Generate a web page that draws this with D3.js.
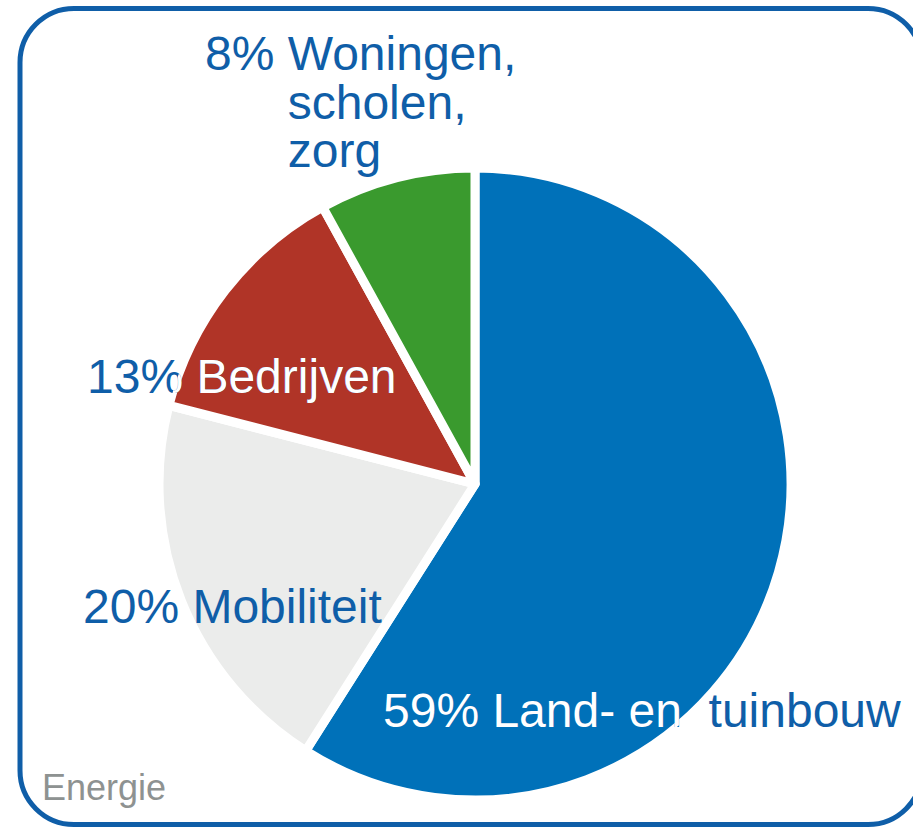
<!DOCTYPE html>
<html>
<head>
<meta charset="utf-8">
<script src="https://cdn.jsdelivr.net/npm/d3@7"></script>
<style>
  body { margin: 0; background: #fff; }
  svg { display: block; }
  text { font-family: "Liberation Sans", Arial, sans-serif; white-space: pre; }
</style>
</head>
<body>
<svg id="chart" width="913" height="828"></svg>
<script>
// data
const categories = ["Land- en  tuinbouw", "Mobiliteit", "Bedrijven", "Woningen,|scholen,|zorg"];
const values = [59, 20, 13, 8];
const colors = ["#0071b9", "#ebeceb", "#b03427", "#3a9a2e"];
const darkSlice = [true, false, true, false];
const title = "Energie";

const width = 913, height = 828;
const cx = 475, cy = 484, radius = 316;
const textBlue = "#0f5ea8";

// label anchor (left x, first baseline y) per slice
const labelPos = [[383, 727], [83, 623], [87, 393], [205, 70]];

const svg = d3.select("#chart");

// frame
svg.append("rect")
  .attr("x", 20).attr("y", 8.5)
  .attr("width", 902).attr("height", 816)
  .attr("rx", 54).attr("ry", 54)
  .attr("fill", "none")
  .attr("stroke", "#0f5ea8")
  .attr("stroke-width", 5);

const pie = d3.pie().sort(null).value(d => d);
const arcs = pie(values);
const arc = d3.arc().innerRadius(0).outerRadius(radius);

const g = svg.append("g").attr("transform", `translate(${cx},${cy})`);

g.selectAll("path")
  .data(arcs)
  .join("path")
  .attr("d", arc)
  .attr("fill", (d, i) => colors[i])
  .attr("stroke", "#fff")
  .attr("stroke-width", 9)
  .attr("stroke-linejoin", "round");

// clip for white text parts over the dark slices
const clip = svg.append("defs").append("clipPath").attr("id", "darkClip");
clip.selectAll("path")
  .data(arcs.filter((d, i) => darkSlice[i]))
  .join("path")
  .attr("transform", `translate(${cx},${cy})`)
  .attr("d", arc);

function drawLabel(parent, i, fill) {
  const pct = values[i] + "% ";
  const lines = categories[i].split("|");
  const t = parent.append("text")
    .attr("x", labelPos[i][0])
    .attr("y", labelPos[i][1])
    .attr("font-size", 48)
    .attr("fill", fill);
  t.append("tspan").text(pct + lines[0]);
  if (lines.length > 1) {
    // indent continuation lines to align with first word
    const probe = svg.append("text").attr("font-size", 48).text(pct);
    const w = probe.node().getComputedTextLength();
    probe.remove();
    lines.slice(1).forEach((ln, k) => {
      t.append("tspan")
        .attr("x", labelPos[i][0] + w)
        .attr("y", labelPos[i][1] + 48.5 * (k + 1))
        .text(ln);
    });
  }
}

const base = svg.append("g");
const over = svg.append("g").attr("clip-path", "url(#darkClip)");
values.forEach((v, i) => {
  drawLabel(base, i, textBlue);
  drawLabel(over, i, "#fff");
});

svg.append("text")
  .attr("x", 42).attr("y", 800)
  .attr("font-size", 36)
  .attr("fill", "#8e9291")
  .text(title);
</script>
</body>
</html>
